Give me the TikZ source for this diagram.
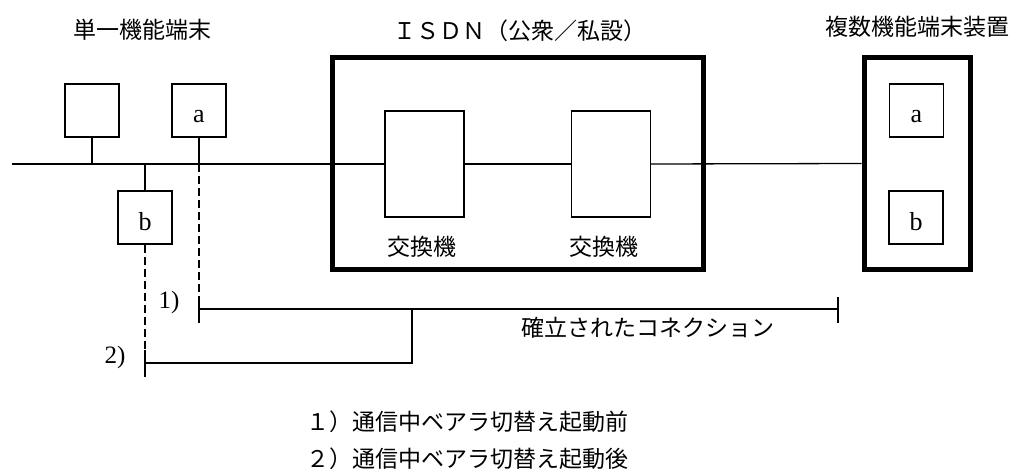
\documentclass[tikz,border=0pt]{standalone}
\usepackage{fontspec}
\setmainfont{Liberation Serif}
\newfontfamily\cjk{Noto Sans CJK JP}
\begin{document}
\begin{tikzpicture}[x=1pt,y=-1pt,
  box/.style={draw,line width=1.2pt,minimum width=54pt,minimum height=53pt,inner sep=0pt,
    font=\fontsize{26}{26}\selectfont,text height=25pt,text depth=0pt},
  exbox/.style={draw,line width=1.2pt,minimum width=79pt,minimum height=106pt,inner sep=0pt},
  frame/.style={draw,line width=5pt,inner sep=0pt},
  jp/.style={font=\cjk\fontsize{23}{23}\selectfont,inner sep=0pt},
  num/.style={font=\fontsize{25}{25}\selectfont,inner sep=0pt},
  wire/.style={line width=1.3pt},
  conn/.style={line width=2pt},
  dashwire/.style={line width=2pt,dash pattern=on 8pt off 4pt}
]
\useasboundingbox (0,0) rectangle (1016,470);

% titles
\node[jp] (t1title) at (142.5,30) {単一機能端末};
\node[jp] (isdntitle) at (520,31) {ＩＳＤＮ（公衆／私設）};
\node[jp] (mtitle) at (917,27) {複数機能端末装置};

% single-function terminals
\node[box] (t1) at (92,110.5) {};
\node[box] (ta) at (199,110.5) {a};
\node[box] (tb) at (145,217.5) {b};

% ISDN
\node[frame,minimum width=371pt,minimum height=211pt] (isdn) at (517.5,163.5) {};
\node[exbox] (ex1) at (424.5,164) {};
\node[exbox] (ex2) at (611,164) {};
\node[jp] (l1) at (422,247) {交換機};
\node[jp] (l2) at (604,247) {交換機};

% multi-function terminal
\node[frame,minimum width=106pt,minimum height=211pt] (mf) at (917,163.5) {};
\node[box] (ma) at (916.5,110.5) {a};
\node[box] (mb) at (916,217.5) {b};

% main line
\coordinate (L) at (12,164);
\draw[wire] (L) -- (ex1.west);
\draw[wire] (ex1.east) -- (ex2.west);
\draw[wire] (ex2.east) -- (mf.west);
\draw[wire] (t1.south) -- (t1.south |- L);
\draw[wire] (ta.south) -- (ta.south |- L);
\draw[wire] (tb.north) -- (tb.north |- L);

% connections
\coordinate (c1t) at (199,297);
\coordinate (c1b) at (199,323);
\coordinate (c1m) at (199,309);
\coordinate (c1e) at (838,309);
\coordinate (c1et) at (838,297);
\coordinate (c1eb) at (838,323);
\coordinate (c1j) at (412,309);
\coordinate (c2t) at (145,350);
\coordinate (c2b) at (145,377);
\coordinate (c2m) at (145,363);
\coordinate (c2j) at (412,363);

\draw[dashwire] (ta.south |- L) -- (c1t);
\draw[conn] (c1t) -- (c1b);
\draw[conn] (c1m) -- (c1e);
\draw[wire] (c1et) -- (c1eb);
\draw[dashwire] (tb.south) -- (c2t);
\draw[conn] (c2t) -- (c2b);
\draw[conn] (c2m) -- (c2j) -- (c1j);

\node[num] (n1) at (169,302) {1)};
\node[num] (n2) at (115,357) {2)};
\node[jp] (conntext) at (648,328) {確立されたコネクション};

% legend
\node[jp,anchor=west] (lg1) at (306,422) {１）通信中ベアラ切替え起動前};
\node[jp,anchor=west] (lg2) at (306,459) {２）通信中ベアラ切替え起動後};
\end{tikzpicture}
\end{document}
